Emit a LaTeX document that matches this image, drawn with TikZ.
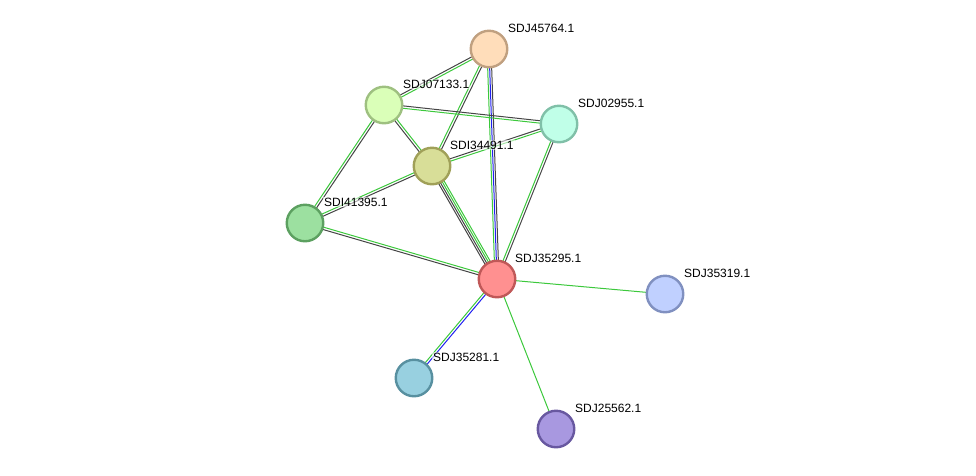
\documentclass[tikz,border=0pt]{standalone}
\usepackage{fontspec}
\setmainfont{Liberation Sans}
\usetikzlibrary{calc}
\pgfdeclarelayer{bg}
\pgfsetlayers{bg,main}
\definecolor{eg}{HTML}{3CC83C}
\definecolor{ed}{HTML}{454545}
\definecolor{eb}{HTML}{2020F0}
\newcommand\edg[4]{\draw[#4] ($(#1.center)!#3!90:(#2.center)$) -- ($(#2.center)!#3!-90:(#1.center)$);}
\tikzset{
  prot/.style={circle, minimum size=36.5pt, inner sep=0pt, line width=2.4pt},
  lbl/.style={anchor=west, inner sep=1pt, fill=white, fill opacity=0.55, text opacity=1, font=\fontsize{12pt}{14pt}\selectfont, text=black},
  ln/.style={line width=1pt}
}
\begin{document}
\begin{tikzpicture}[x=1pt,y=-1pt]
\useasboundingbox (0,0) rectangle (976,475);
\node[prot, fill={rgb,255:red,255;green,221;blue,186}, draw={rgb,255:red,192;green,160;blue,128}] (n45764) at (489,49) {};
\node[prot, fill={rgb,255:red,218;green,255;blue,184}, draw={rgb,255:red,158;green,192;blue,128}] (n07133) at (384,105) {};
\node[prot, fill={rgb,255:red,192;green,255;blue,232}, draw={rgb,255:red,128;green,192;blue,168}] (n02955) at (559,124) {};
\node[prot, fill={rgb,255:red,216;green,222;blue,152}, draw={rgb,255:red,160;green,160;blue,88}] (n34491) at (432,166) {};
\node[prot, fill={rgb,255:red,156;green,224;blue,160}, draw={rgb,255:red,92;green,160;blue,96}] (n41395) at (305,223) {};
\node[prot, fill={rgb,255:red,255;green,144;blue,144}, draw={rgb,255:red,192;green,88;blue,88}] (n35295) at (497,279) {};
\node[prot, fill={rgb,255:red,192;green,208;blue,255}, draw={rgb,255:red,128;green,144;blue,192}] (n35319) at (665,294) {};
\node[prot, fill={rgb,255:red,152;green,208;blue,224}, draw={rgb,255:red,88;green,144;blue,160}] (n35281) at (414,378) {};
\node[prot, fill={rgb,255:red,168;green,152;blue,224}, draw={rgb,255:red,104;green,88;blue,160}] (n25562) at (556,429) {};

\node[lbl] (l45764) at ($(n45764)+(18,-21)$) {SDJ45764.1};
\node[lbl] (l07133) at ($(n07133)+(18,-21)$) {SDJ07133.1};
\node[lbl] (l02955) at ($(n02955)+(18,-21)$) {SDJ02955.1};
\node[lbl] (l34491) at ($(n34491)+(17,-21)$) {SDI34491.1};
\node[lbl] (l41395) at ($(n41395)+(18,-21)$) {SDI41395.1};
\node[lbl] (l35295) at ($(n35295)+(17,-21)$) {SDJ35295.1};
\node[lbl] (l35319) at ($(n35319)+(18,-21)$) {SDJ35319.1};
\node[lbl] (l35281) at ($(n35281)+(18,-21)$) {SDJ35281.1};
\node[lbl] (l25562) at ($(n25562)+(18,-21)$) {SDJ25562.1};

\begin{pgfonlayer}{bg}
\edg{n45764}{n07133}{1.2pt}{ln,eg}
\edg{n45764}{n07133}{-1.2pt}{ln,ed}
\edg{n45764}{n34491}{1.2pt}{ln,ed}
\edg{n45764}{n34491}{-1.2pt}{ln,eg}
\edg{n45764}{n35295}{-2pt}{ln,eg}
\edg{n45764}{n35295}{0pt}{ln,eb}
\edg{n45764}{n35295}{2pt}{ln,ed}
\edg{n07133}{n02955}{1.2pt}{ln,ed}
\edg{n07133}{n02955}{-1.2pt}{ln,eg}
\edg{n07133}{n34491}{1.2pt}{ln,eg}
\edg{n07133}{n34491}{-1.2pt}{ln,ed}
\edg{n07133}{n41395}{1.2pt}{ln,ed}
\edg{n07133}{n41395}{-1.2pt}{ln,eg}
\edg{n02955}{n34491}{1.2pt}{ln,eg}
\edg{n02955}{n34491}{-1.2pt}{ln,ed}
\edg{n02955}{n35295}{1.2pt}{ln,ed}
\edg{n02955}{n35295}{-1.2pt}{ln,eg}
\edg{n34491}{n41395}{1.2pt}{ln,ed}
\edg{n34491}{n41395}{-1.2pt}{ln,eg}
\edg{n34491}{n35295}{-3pt}{ln,ed}
\edg{n34491}{n35295}{-1pt}{ln,ed}
\edg{n34491}{n35295}{1pt}{ln,eg}
\edg{n34491}{n35295}{3pt}{ln,eg}
\edg{n41395}{n35295}{1.2pt}{ln,eg}
\edg{n41395}{n35295}{-1.2pt}{ln,ed}
\edg{n35295}{n35319}{0pt}{ln,eg}
\edg{n35295}{n35281}{1.2pt}{ln,eb}
\edg{n35295}{n35281}{-1.2pt}{ln,eg}
\edg{n35295}{n25562}{0pt}{ln,eg}
\end{pgfonlayer}
\end{tikzpicture}
\end{document}
